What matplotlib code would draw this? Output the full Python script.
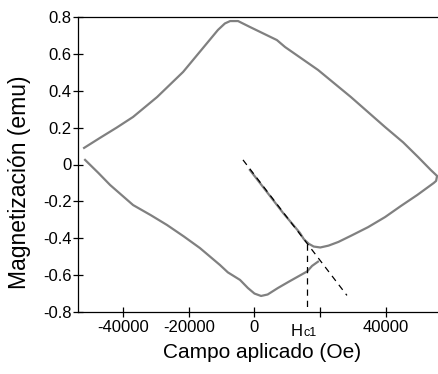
import matplotlib
matplotlib.use("Agg")
import matplotlib.pyplot as plt

plt.rcParams["font.family"] = ["Liberation Sans", "DejaVu Sans"]
plt.rcParams["axes.unicode_minus"] = False

# upper branch + hook at the right end + descending branch back to the left
h_loop = [-51.8, -47.0, -41.9, -36.9, -29.6, -21.7, -14.4, -11.1, -9.0, -7.4,
          -5.0, -1.4, 6.8, 9.3, 19.3, 29.3, 39.7, 45.2, 49.7, 53.6, 55.5, 55.2,
          54.5, 49.5, 44.5, 39.7, 34.5, 29.5, 25.5, 22.5, 20.0, 18.0, 16.5,
          15.0, 13.8, 8.7, 2.6, -1.4]
m_loop = [0.09, 0.144, 0.20, 0.258, 0.366, 0.502, 0.659, 0.73, 0.765, 0.778,
          0.778, 0.746, 0.675, 0.637, 0.513, 0.366, 0.203, 0.12, 0.041, -0.03,
          -0.062, -0.089, -0.10, -0.165, -0.225, -0.285, -0.34, -0.385, -0.42,
          -0.44, -0.45, -0.445, -0.43, -0.405, -0.371, -0.263, -0.122, -0.03]

# lower branch
h_low = [-51.5, -47.5, -43.9, -36.9, -31.5, -26.6, -21.5, -16.6, -10.5, -8.1,
         -4.4, -2.0, 0.0, 2.0, 4.0, 7.1, 10.5, 13.5, 16.0, 17.5, 19.3]
m_low = [0.025, -0.045, -0.111, -0.22, -0.275, -0.328, -0.39, -0.453, -0.545,
         -0.585, -0.626, -0.67, -0.70, -0.713, -0.705, -0.67, -0.635, -0.605,
         -0.58, -0.55, -0.527]

# tangent line and coercive field marker
h_tan = [-3.5, 28.1]
m_tan = [0.025, -0.71]
hc1 = 16.0
m_hc1 = -0.43

xticks = [-40000, -20000, 0, 20000, 40000]
xlabels = ["-40000", "-20000", "0", "", "40000"]
yticks = [0.8, 0.6, 0.4, 0.2, 0, -0.2, -0.4, -0.6, -0.8]
ylabels = ["0.8", "0.6", "0.4", "0.2", "0", "-0.2", "-0.4", "-0.6", "-0.8"]

fig = plt.figure(figsize=(4.38, 3.74), dpi=100)
ax = fig.add_axes([78 / 438, 62 / 374, 360 / 438, 295 / 374])

k = 1000
ax.plot([h * k for h in h_loop], m_loop, color="#808080", lw=1.6)
ax.plot([h * k for h in h_low], m_low, color="#808080", lw=1.6)
ax.plot([h * k for h in h_tan], m_tan, color="black", lw=0.9, dashes=(5, 4))
ax.plot([hc1 * k, hc1 * k], [m_hc1, -0.8], color="black", lw=0.9, dashes=(5, 4))

ax.set_xlim(-53650, 55780)
ax.set_ylim(-0.8, 0.8)
ax.set_xticks(xticks)
ax.set_xticklabels(xlabels)
ax.set_yticks(yticks)
ax.set_yticklabels(ylabels)
ax.tick_params(direction="inout", length=7, width=0.9, labelsize=12, pad=1)
ax.tick_params(axis="x", pad=2)

ax.spines["right"].set_visible(False)
for s in ["left", "bottom", "top"]:
    ax.spines[s].set_linewidth(0.9)

ax.text(14700, -0.081, "H", transform=ax.get_xaxis_transform(),
        ha="right", va="baseline", fontsize=12)
ax.text(14900, -0.081, "c1", transform=ax.get_xaxis_transform(),
        ha="left", va="baseline", fontsize=9)

ax.set_xlabel("Campo aplicado (Oe)", fontsize=15)
ax.set_ylabel("Magnetización (emu)", fontsize=16.5)
ax.xaxis.set_label_coords(0.511, -0.105)
ax.yaxis.set_label_coords(-0.13, 0.44)

fig.savefig("out.png", dpi=100)
